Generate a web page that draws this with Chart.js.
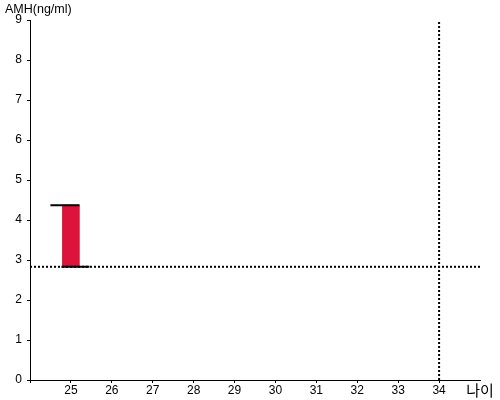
<!DOCTYPE html>
<html>
<head>
<meta charset="utf-8">
<script src="https://cdn.jsdelivr.net/npm/chart.js@4.4.0/dist/chart.umd.min.js"></script>
<style>
  html, body { margin: 0; padding: 0; background: #fff; }
  #wrap { width: 500px; height: 400px; }
</style>
</head>
<body>
<div id="wrap"><canvas id="myChart"></canvas></div>
<script>
// data
const ages = [25];
const amhLow = [2.83];
const amhHigh = [4.37];
const refAge = 34;
const refAmh = 2.83;
const xMin = 24, xMax = 35;
const yMin = 0, yMax = 9;
const yTitle = 'AMH(ng/ml)';
const xTitle = '나이';

const barData = ages.map((a, i) => ({ x: a, y: [amhLow[i], amhHigh[i]] }));

// open tick (top, to the left) and close tick (bottom, to the right), like an OHLC mark
const ohlcTicks = {
  id: 'ohlcTicks',
  afterDatasetsDraw(chart) {
    const meta = chart.getDatasetMeta(0);
    const y = chart.scales.y;
    const c = chart.ctx;
    c.save();
    c.strokeStyle = '#000';
    c.lineWidth = 2;
    meta.data.forEach((bar, i) => {
      const left = bar.x - bar.width / 2;
      const right = bar.x + bar.width / 2;
      const yHi = y.getPixelForValue(amhHigh[i]);
      const yLo = y.getPixelForValue(amhLow[i]);
      c.beginPath();
      c.moveTo(left - 12, yHi);
      c.lineTo(right, yHi);
      c.moveTo(left - 1, yLo);
      c.lineTo(right + 10, yLo);
      c.stroke();
    });
    c.restore();
  }
};

const axisTitle = {
  id: 'axisTitle',
  afterDraw(chart) {
    const c = chart.ctx;
    c.save();
    c.fillStyle = '#000';
    c.font = '12.5px Arial, "Liberation Sans"';
    c.textBaseline = 'middle';
    c.textAlign = 'left';
    c.fillText(yTitle, 5, 10);
    c.restore();
  }
};

new Chart(document.getElementById('myChart'), {
  type: 'bar',
  data: {
    datasets: [
      {
        type: 'bar',
        data: barData,
        backgroundColor: '#DC143C',
        barThickness: 17,
        order: 2
      },
      {
        type: 'line',
        data: [{ x: xMin, y: refAmh }, { x: xMax, y: refAmh }],
        borderColor: '#000',
        borderWidth: 2,
        borderDash: [2, 2],
        pointRadius: 0,
        fill: false,
        order: 1
      },
      {
        type: 'line',
        data: [{ x: refAge, y: yMin }, { x: refAge, y: yMax }],
        borderColor: '#000',
        borderWidth: 2,
        borderDash: [2, 2],
        pointRadius: 0,
        fill: false,
        order: 1
      }
    ]
  },
  options: {
    responsive: true,
    maintainAspectRatio: false,
    animation: false,
    layout: { padding: { top: 20, right: 20, left: 0, bottom: 0 } },
    plugins: {
      legend: { display: false },
      tooltip: { enabled: false }
    },
    scales: {
      x: {
        type: 'linear',
        min: xMin,
        max: xMax,
        offset: false,
        afterFit(scale) { scale.height = 20; },
        border: { color: '#000', width: 1 },
        grid: {
          offset: false,
          drawOnChartArea: false,
          drawTicks: true,
          tickLength: 3,
          color: ctx => (ctx.tick && ctx.tick.value === xMax) ? 'rgba(0,0,0,0)' : '#000'
        },
        ticks: {
          stepSize: 1,
          padding: 0,
          maxRotation: 0,
          autoSkip: false,
          color: '#000',
          font: ctx => (ctx.tick && ctx.tick.value === xMax)
            ? { family: 'Arial, "Liberation Sans", "Noto Sans CJK KR"', size: 15 }
            : { family: 'Arial, "Liberation Sans"', size: 12 },
          callback: v => v === xMin ? '' : (v === xMax ? xTitle : v)
        }
      },
      y: {
        min: yMin,
        max: yMax,
        afterFit(scale) { scale.width = 30; },
        border: { color: '#000', width: 1 },
        grid: { drawOnChartArea: false, drawTicks: true, tickLength: 3, color: '#000' },
        ticks: {
          stepSize: 1,
          padding: 5,
          color: '#000',
          font: { family: 'Arial, "Liberation Sans"', size: 12 }
        }
      }
    }
  },
  plugins: [ohlcTicks, axisTitle]
});
</script>
</body>
</html>
